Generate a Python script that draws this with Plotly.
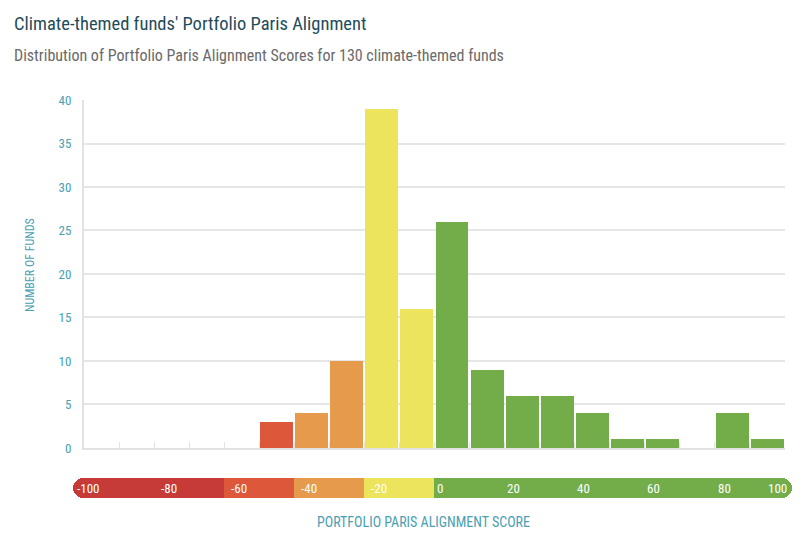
import plotly.graph_objects as go

# histogram bins (left edges, width 10) and number of funds in each
bin_left = [-100, -90, -80, -70, -60, -50, -40, -30, -20, -10,
            0, 10, 20, 30, 40, 50, 60, 70, 80, 90]
n_funds = [0, 0, 0, 0, 0, 3, 4, 10, 39, 16,
           26, 9, 6, 6, 4, 1, 1, 0, 4, 1]

# colour scale bands under the chart
band_start = [-103.1, -60, -40, -20, 0]
band_end = [-60, -40, -20, 0, 102.0]
band_col = ["#c63a37", "#dd573b", "#e59b4b", "#ece45c", "#72ad4a"]
scale_labels = [-100, -80, -60, -40, -20, 0, 20, 40, 60, 80, 100]

FONT = "Roboto Condensed"
TEAL = "#4aa0b3"

def bar_colour(x):
    if x < -40:
        return "#dd573b"
    if x < -20:
        return "#e59b4b"
    if x < 0:
        return "#ece45c"
    return "#72ad4a"

centres = [b + 5 for b in bin_left]
cols = [bar_colour(b) for b in bin_left]

fig = go.Figure()
fig.add_trace(go.Bar(x=centres, y=n_funds, width=9.4, marker_color=cols,
                     marker_line_width=0, xaxis="x", yaxis="y", showlegend=False))

# rounded ends of the scale bar first, flat middle pieces drawn on top
fig.add_trace(go.Bar(x=[band_end[0] + 10 - band_start[0]], base=[band_start[0]], y=[0],
                     orientation="h", width=1, marker_color=band_col[0],
                     marker_cornerradius=10, marker_line_width=0,
                     xaxis="x2", yaxis="y2", showlegend=False))
fig.add_trace(go.Bar(x=[band_end[4] - band_start[4] + 10], base=[band_start[4] - 10], y=[0],
                     orientation="h", width=1, marker_color=band_col[4],
                     marker_cornerradius=10, marker_line_width=0,
                     xaxis="x2", yaxis="y2", showlegend=False))
mid = [1, 2, 3]
fig.add_trace(go.Bar(x=[band_end[i] - band_start[i] for i in mid],
                     base=[band_start[i] for i in mid], y=[0, 0, 0],
                     orientation="h", width=1,
                     marker_color=[band_col[i] for i in mid], marker_line_width=0,
                     xaxis="x2", yaxis="y2", showlegend=False))

for v in scale_labels:
    lab_font = dict(family=FONT, size=13, color="white")
    if v == 100:
        fig.add_annotation(x=101.2, y=0, xref="x2", yref="y2", text=str(v),
                           xanchor="right", showarrow=False, font=lab_font)
    else:
        if v == -100:
            off = -2.6
        elif v < 0:
            off = 1.4
        else:
            off = 0.2
        fig.add_annotation(x=v + off, y=0, xref="x2", yref="y2", text=str(v),
                           xanchor="left", showarrow=False, font=lab_font)

fig.add_annotation(x=-0.041, y=0.526, xref="paper", yref="y domain", xanchor="center",
                   text="NUMBER OF FUNDS", textangle=-90, showarrow=False,
                   font=dict(family=FONT, size=12, color=TEAL))
fig.add_annotation(x=-3.1, y=-0.012, xref="x", yref="paper", yanchor="middle",
                   text="PORTFOLIO PARIS ALIGNMENT SCORE", showarrow=False,
                   font=dict(family=FONT, size=14, color=TEAL))

fig.add_annotation(x=-0.0655, y=1.182, xref="paper", yref="paper",
                   xanchor="left", yanchor="middle", showarrow=False,
                   text="Climate-themed funds' Portfolio Paris Alignment",
                   font=dict(family=FONT, size=18.5, color="#1e4b5a"))
fig.add_annotation(x=-0.0655, y=1.106, xref="paper", yref="paper",
                   xanchor="left", yanchor="middle", showarrow=False,
                   text="Distribution of Portfolio Paris Alignment Scores for 130 climate-themed funds",
                   font=dict(family=FONT, size=16, color="#6a6a6a"))

fig.update_layout(
    width=784, height=521,
    margin=dict(l=52, r=0, t=92, b=12),
    paper_bgcolor="white", plot_bgcolor="white",
    barmode="overlay", bargap=0,
    font=dict(family=FONT),
    xaxis=dict(domain=[0.0328, 0.9904], range=[-100, 100], showgrid=False,
               showline=True, linecolor="#e2e2e2", linewidth=2,
               ticks="inside", tickvals=bin_left[1:], ticklen=6, tickcolor="#e2e2e2",
               showticklabels=False, zeroline=False, layer="below traces"),
    yaxis=dict(domain=[0.1655, 1], range=[0, 40], dtick=5, showgrid=True,
               gridcolor="#e6e6e6", gridwidth=1.5, showline=True, linecolor="#e2e2e2",
               linewidth=2, zeroline=False, ticks="", ticklabelstandoff=8,
               tickfont=dict(family=FONT, size=13, color=TEAL)),
    xaxis2=dict(domain=[0.01776, 1], range=[-103.1, 102.0], anchor="y2",
                visible=False),
    yaxis2=dict(domain=[0.0456, 0.0935], range=[-0.5, 0.5], anchor="x2",
                visible=False),
)

fig.write_html("out.html")
